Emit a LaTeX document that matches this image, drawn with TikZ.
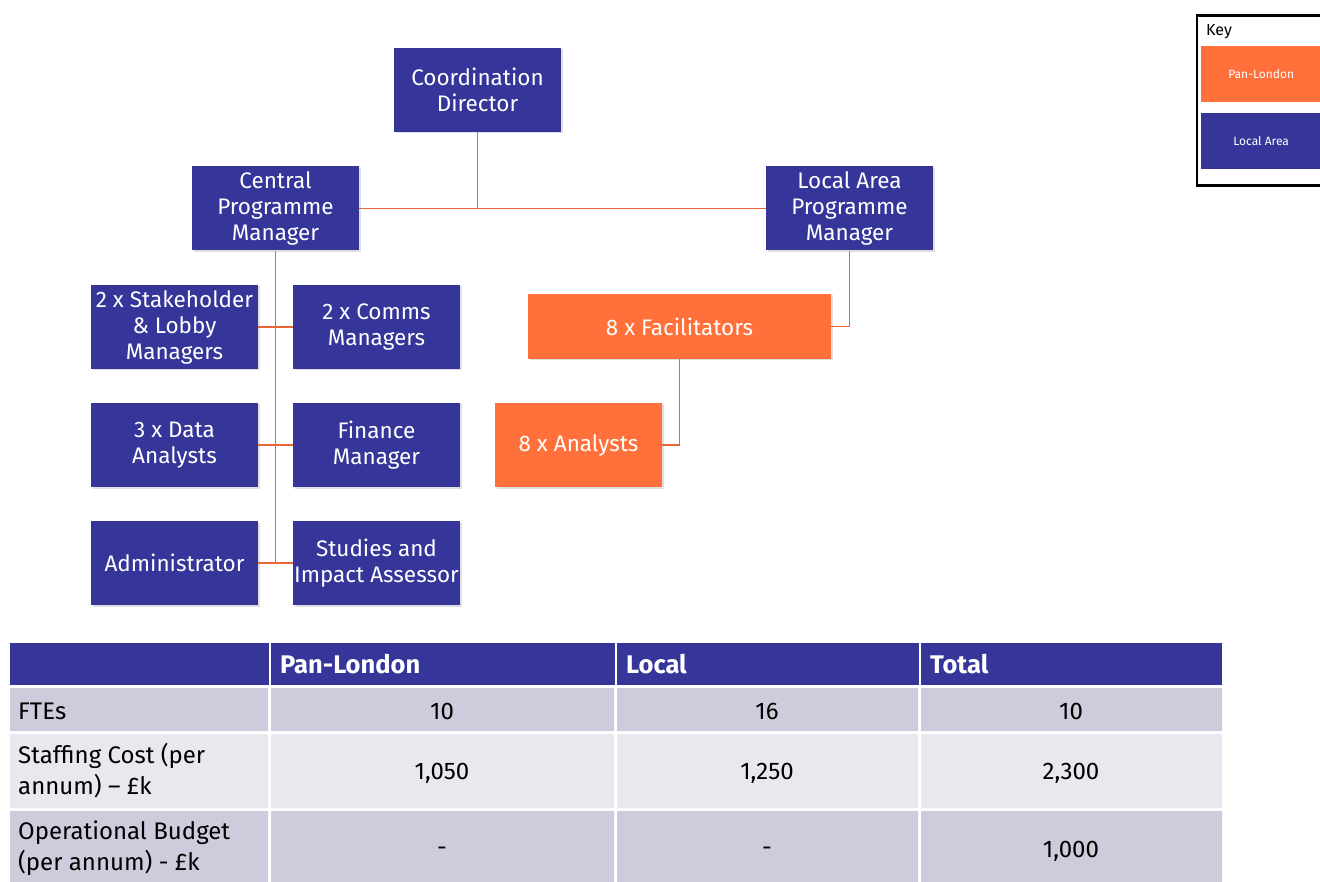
\documentclass[tikz,border=0pt]{standalone}
\usepackage{fontspec}
\setmainfont{Fira Sans}
\usetikzlibrary{shadows}
\definecolor{navy}{RGB}{53,53,154}
\definecolor{pan}{RGB}{255,112,58}
\definecolor{wire}{RGB}{232,102,58}
\definecolor{rowdark}{RGB}{205,204,221}
\definecolor{rowlight}{RGB}{232,232,238}
\begin{document}
\begin{tikzpicture}[x=1pt,y=-1pt,
  orgbox/.style={fill=navy,text=white,align=center,inner sep=0pt,
    minimum width=167pt,minimum height=84pt,font=\fontsize{22.5}{26}\selectfont,
    drop shadow={opacity=0.25,shadow xshift=1.5pt,shadow yshift=-1.5pt}},
  panbox/.style={orgbox,fill=pan},
  link/.style={draw=wire,line width=1.3pt},
  hdr/.style={text=white,font=\fontsize{25.5}{28}\selectfont\bfseries,anchor=west,inner sep=0pt},
  celltxt/.style={text=black,font=\fontsize{24}{31}\selectfont,inner sep=0pt,align=left},
  keybox/.style={inner sep=0pt,text=white,font=\fontsize{12}{14}\selectfont,minimum width=130pt,minimum height=56pt}]
\useasboundingbox (0,0) rectangle (1320,882);
\clip (0,0) rectangle (1320,882);

% organisation chart
\node[orgbox] (dir) at (477.5,90) {Coordination\\Director};
\node[orgbox] (cpm) at (275.5,208.5) {Central\\Programme\\Manager};
\node[orgbox] (lapm) at (849.5,208.5) {Local Area\\Programme\\Manager};
\node[orgbox] (stake) at (174.5,327) {2 x Stakeholder\\\& Lobby\\Managers};
\node[orgbox] (comms) at (376.5,327) {2 x Comms\\Managers};
\node[orgbox] (data) at (174.5,445) {3 x Data\\Analysts};
\node[orgbox] (fin) at (376.5,445) {Finance\\Manager};
\node[orgbox] (admin) at (174.5,563) {Administrator};
\node[orgbox] (study) at (376.5,563) {Studies and\\Impact Assessor};
\node[panbox,minimum width=303pt,minimum height=65pt] (fac) at (679.5,326.5) {8 x Facilitators};
\node[panbox] (ana) at (578.5,445) {8 x Analysts};

% reporting lines
\coordinate (junc) at (dir.south |- cpm.east);
\coordinate (spineend) at (cpm.south |- admin.east);
\draw[link] (dir.south) -- (junc);
\draw[link] (cpm.east) -- (lapm.west);
\draw[link] (cpm.south) -- (spineend);
\draw[link] (stake.east) -- (comms.west);
\draw[link] (data.east) -- (fin.west);
\draw[link] (admin.east) -- (study.west);
\draw[link] (lapm.south) |- (fac.east);
\draw[link] (fac.south) |- (ana.east);

% key
\node[draw=black,line width=2.5pt,minimum width=140pt,minimum height=170pt,anchor=north west,inner sep=0pt] (key) at (1195.5,14.5) {};
\node[anchor=west,inner sep=0pt,font=\fontsize{16}{18}\selectfont] (keylbl) at (1206,32) {Key};
\node[keybox,fill=pan,anchor=north west] (keypan) at (1201,46) {\hspace*{-10pt}Pan-London};
\node[keybox,fill=navy,anchor=north west] (keyloc) at (1201,113) {\hspace*{-10pt}Local Area};

% cost table
\fill[navy] (10,643) rectangle (1222,685);
\fill[rowdark] (10,688) rectangle (268,731) (271,688) rectangle (614,731) (617,688) rectangle (918,731) (921,688) rectangle (1222,731);
\fill[rowlight] (10,734) rectangle (268,808) (271,734) rectangle (614,808) (617,734) rectangle (918,808) (921,734) rectangle (1222,808);
\fill[rowdark] (10,811) rectangle (268,882) (271,811) rectangle (614,882) (617,811) rectangle (918,882) (921,811) rectangle (1222,882);
\draw[white,line width=2pt] (269.5,643) -- (269.5,882) (615.5,643) -- (615.5,882) (919.5,643) -- (919.5,882);

\node[hdr] (hpan) at (280,664) {Pan-London};
\node[hdr] (hloc) at (626,664) {Local};
\node[hdr] (htot) at (930,664) {Total};

\node[celltxt,anchor=west] (rfte) at (18,711) {FTEs};
\node[celltxt,anchor=west] (rstaff) at (18,771) {Staffing Cost (per\\annum) – £k};
\node[celltxt,anchor=west] (rop) at (18,848) {Operational Budget\\(per annum) - £k};

\node[celltxt] (v11) at (442,711) {10};
\node[celltxt] (v12) at (767,711) {16};
\node[celltxt] (v13) at (1071,711) {10};
\node[celltxt] (v21) at (442,773) {1,050};
\node[celltxt] (v22) at (767,773) {1,250};
\node[celltxt] (v23) at (1071,773) {2,300};
\node[celltxt] (v31) at (442,851) {-};
\node[celltxt] (v32) at (767,851) {-};
\node[celltxt] (v33) at (1071,851) {1,000};
\end{tikzpicture}
\end{document}
